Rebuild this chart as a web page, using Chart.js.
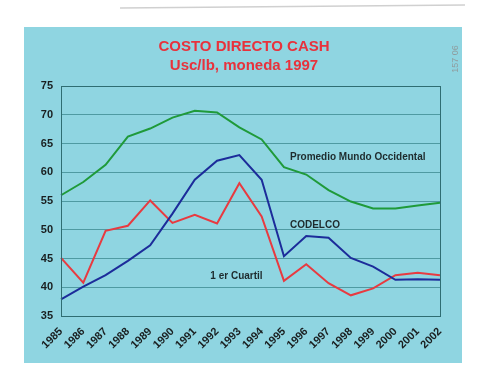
<!DOCTYPE html>
<html>
<head>
<meta charset="utf-8">
<script src="https://cdn.jsdelivr.net/npm/chart.js@4/dist/chart.umd.min.js"></script>
<style>
html,body{margin:0;padding:0;background:#ffffff;}
#wrap{width:480px;height:376px;position:relative;}
</style>
</head>
<body>
<div id="wrap"><canvas id="c" width="480" height="376"></canvas></div>
<script>
const years = ['1985','1986','1987','1988','1989','1990','1991','1992','1993','1994','1995','1996','1997','1998','1999','2000','2001','2002'];
const promedioMundo = [56.0,58.3,61.3,66.2,67.6,69.5,70.7,70.4,67.8,65.7,60.9,59.6,56.9,54.9,53.7,53.7,54.2,54.7];
const codelco = [37.9,40.1,42.1,44.6,47.3,52.8,58.7,62.0,63.0,58.7,45.4,48.9,48.6,45.1,43.6,41.3,41.4,41.3];
const primerCuartil = [45.1,40.8,49.8,50.7,55.1,51.2,52.6,51.1,58.1,52.3,41.1,44.0,40.7,38.6,39.8,42.1,42.5,42.1];
const titleLines = ['COSTO DIRECTO CASH','Usc/lb, moneda 1997'];
const seriesLabels = ['Promedio Mundo Occidental','CODELCO','1 er Cuartil'];
const yTicks = {min:35, max:75, step:5};

const deco = {
  id:'deco',
  beforeDraw(chart){
    const ctx = chart.ctx;
    ctx.save();
    ctx.fillStyle = '#ffffff';
    ctx.fillRect(0,0,480,376);
    ctx.strokeStyle = '#d0d0d0';
    ctx.lineWidth = 1.5;
    ctx.beginPath(); ctx.moveTo(120,8); ctx.lineTo(465,5); ctx.stroke();
    ctx.fillStyle = '#8fd5e1';
    ctx.fillRect(24,27,438,336);
    ctx.restore();
  },
  afterDraw(chart){
    const ctx = chart.ctx, a = chart.chartArea;
    const xs = chart.scales.x, ys = chart.scales.y;
    ctx.save();
    ctx.strokeStyle = '#2f6d72';
    ctx.lineWidth = 1;
    ctx.strokeRect(Math.round(a.left)+0.5, Math.round(a.top)+0.5, Math.round(a.right-a.left), Math.round(a.bottom-a.top));
    ctx.fillStyle = '#e8323c';
    ctx.font = 'bold 15px "Liberation Sans", Arial, sans-serif';
    ctx.textAlign = 'center'; ctx.textBaseline = 'middle';
    ctx.fillText(titleLines[0], 244, 47);
    ctx.fillText(titleLines[1], 244, 66);
    ctx.fillStyle = '#1e2b2d';
    ctx.font = 'bold 10px "Liberation Sans", Arial, sans-serif';
    ctx.textAlign = 'left';
    ctx.fillText(seriesLabels[0], xs.getPixelForValue(10.27), ys.getPixelForValue(62.65));
    ctx.fillText(seriesLabels[1], xs.getPixelForValue(10.27), ys.getPixelForValue(50.8));
    ctx.fillText(seriesLabels[2], xs.getPixelForValue(6.7), ys.getPixelForValue(42.0));
    ctx.translate(456, 59);
    ctx.rotate(-Math.PI/2);
    ctx.fillStyle = '#8f9c9e';
    ctx.font = '9px "Liberation Sans", Arial, sans-serif';
    ctx.textAlign = 'center';
    ctx.fillText('157 06', 0, 0);
    ctx.restore();
  }
};

new Chart(document.getElementById('c'), {
  type:'line',
  data:{
    labels: years,
    datasets:[
      {label:seriesLabels[0], data:promedioMundo, borderColor:'#1f9a3a', borderWidth:2, pointRadius:0, tension:0},
      {label:seriesLabels[1], data:codelco, borderColor:'#1c2c9a', borderWidth:2, pointRadius:0, tension:0},
      {label:seriesLabels[2], data:primerCuartil, borderColor:'#e83a40', borderWidth:2, pointRadius:0, tension:0}
    ]
  },
  options:{
    responsive:false,
    animation:false,
    devicePixelRatio:1,
    layout:{padding:{top:86,right:40,bottom:0,left:0}},
    plugins:{legend:{display:false}, tooltip:{enabled:false}, title:{display:false}},
    scales:{
      x:{
        offset:false,
        grid:{display:false, drawTicks:false},
        border:{display:false},
        ticks:{maxRotation:45, minRotation:45, autoSkip:false, padding:9, color:'#1a1f20',
          font:{family:'"Liberation Sans", Arial, sans-serif', size:11, weight:'bold'}},
        afterFit(s){ s.height = 60; }
      },
      y:{
        min:yTicks.min, max:yTicks.max,
        grid:{color:'#4f9aa2', lineWidth:1, drawTicks:false},
        border:{display:false},
        ticks:{stepSize:yTicks.step, padding:8, color:'#1a1f20',
          font:{family:'"Liberation Sans", Arial, sans-serif', size:11, weight:'bold'}},
        afterFit(s){ s.width = 61; }
      }
    }
  },
  plugins:[deco]
});
</script>
</body>
</html>
